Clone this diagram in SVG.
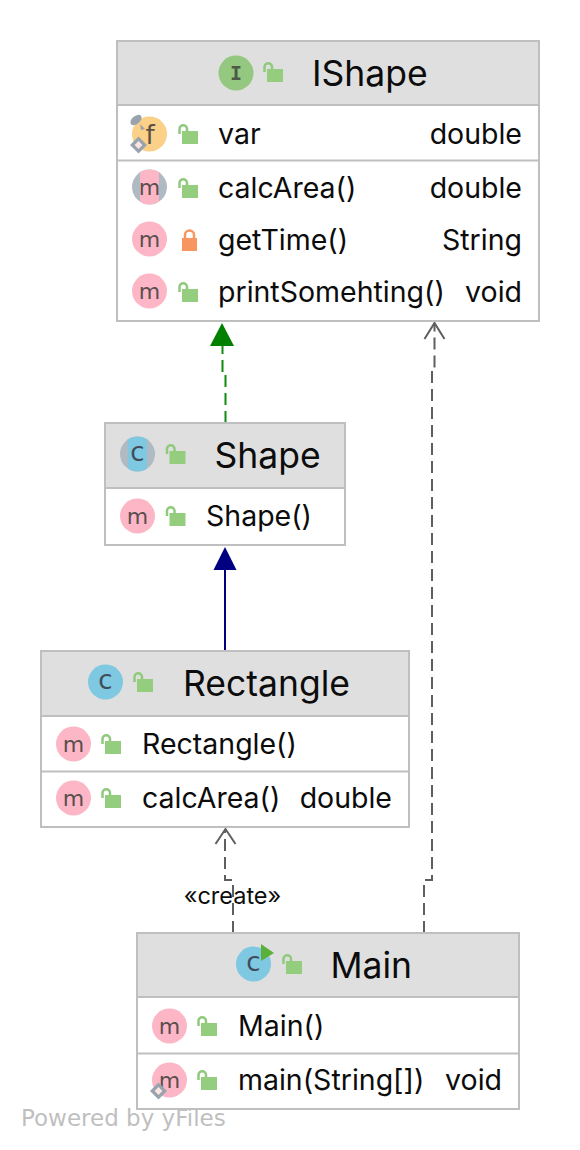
<svg xmlns="http://www.w3.org/2000/svg" width="580" height="1150" viewBox="0 0 580 1150">
<style>
text{font-family:"Inter","Liberation Sans",sans-serif;fill:#0c0c0c}
.box{fill:#fff;stroke:#bfbfbf;stroke-width:2}
.hd{fill:#dfdfdf;stroke:#bfbfbf;stroke-width:2}
.sep{stroke:#bfbfbf;stroke-width:2;fill:none}
.t{font-size:35.5px}
.l{font-size:28.5px}
.g{font-family:"DejaVu Sans",sans-serif;font-size:22px;fill:#57504f;text-anchor:middle}
.gc{font-family:"DejaVu Sans",sans-serif;font-size:26px;fill:#3f4d5a;text-anchor:middle}
.con{fill:none;stroke-width:2}
.dash{stroke-dasharray:12 6}
</style>
<defs>
<g id="open"><path d="M-5.500 2V-3a3.750 3.750 0 0 1 7.500 0V-1" fill="none" stroke="#8fca7c" stroke-width="2.500"/><rect x="-3" y="-1" width="16" height="13" fill="#94cd7d"/></g>
<g id="lock"><path d="M-4.500 2v-5a4.500 4.500 0 0 1 9 0v5" fill="none" stroke="#f79660" stroke-width="2.500"/><rect x="-7.500" y="0" width="15" height="13" fill="#f79660"/></g>
<circle id="mc" r="17.500" fill="#fdb6c6"/>
<g id="ringm"><circle r="17.500" fill="#afbac3"/><path d="M-9.500-14.700A17.500 17.500 0 0 1 9.500-14.700V14.700A17.500 17.500 0 0 1-9.500 14.700Z" fill="#fdb6c6"/></g>
<g id="ringc"><circle r="17.500" fill="#afbac3"/><path d="M-9.500-14.700A17.500 17.500 0 0 1 9.500-14.700V14.700A17.500 17.500 0 0 1-9.500 14.700Z" fill="#7fc8e2"/></g>
<g id="dia"><rect x="-6" y="-6" width="12" height="12" fill="#97a3ad" transform="rotate(45)"/><rect x="-2.750" y="-2.750" width="5.500" height="5.500" fill="#fbe4e2" transform="rotate(45)"/></g>
</defs>

<g id="connectors">
<path class="con dash" stroke="#0f8c0f" d="M225.500 423V372H222.500V346"/>
<path d="M222 323L234 346H210Z" fill="#008000"/>
<path class="con" stroke="#000080" d="M225 651V569"/>
<path d="M225 547L236.500 570H213.500Z" fill="#000080"/>
<path class="con dash" stroke="#5f5f5f" d="M424 933V880H432V372H434.500V325"/>
<path class="con" stroke="#5f5f5f" d="M424.500 339L434.500 323L444.500 339"/>
<path class="con dash" stroke="#5f5f5f" d="M233 933V880H225V830"/>
<path class="con" stroke="#5f5f5f" d="M215.500 844L225.500 829L235.500 844"/>
<text id="create-label" x="232.500" y="904" text-anchor="middle" style="font-size:23.500px">«create»</text>
</g>

<g id="IShape">
<rect class="box" x="117" y="41" width="422" height="280"/>
<rect class="hd" x="117" y="41" width="422" height="64"/>
<path class="sep" d="M117 160.500H539"/>
<circle cx="236" cy="73" r="17.500" fill="#94c77f"/>
<text x="236" y="80" class="g" style="font-family:'DejaVu Sans Mono',monospace;font-weight:bold;font-size:20px;fill:#4d5a47">I</text>
<use href="#open" x="270" y="70"/>
<text class="t" x="312" y="86">IShape</text>
<circle cx="149.500" cy="134" r="17.500" fill="#fbd088"/>
<text x="150" y="144" class="g" style="font-size:26px;fill:#5c5142">f</text>
<ellipse cx="136" cy="120" rx="6.500" ry="4" fill="#99a3ad" transform="rotate(-40 136 120)"/>
<path d="M140 124l5 5l-4 1Z" fill="#99a3ad"/>
<use href="#dia" x="138.500" y="145"/>
<use href="#open" x="185" y="132"/>
<text class="l" x="218" y="144">var</text>
<text class="l" x="522" y="144" text-anchor="end">double</text>
<use href="#ringm" x="149.500" y="187"/>
<text x="149.500" y="194.500" class="g">m</text>
<use href="#open" x="185" y="186"/>
<text class="l" x="218" y="198">calcArea()</text>
<text class="l" x="522" y="198" text-anchor="end">double</text>
<use href="#mc" x="149.500" y="239"/>
<text x="149.500" y="246.500" class="g">m</text>
<use href="#lock" x="189.500" y="238"/>
<text class="l" x="218" y="250">getTime()</text>
<text class="l" x="522" y="250" text-anchor="end">String</text>
<use href="#mc" x="149.500" y="291"/>
<text x="149.500" y="298.500" class="g">m</text>
<use href="#open" x="185" y="290"/>
<text class="l" x="218" y="302">printSomehting()</text>
<text class="l" x="522" y="302" text-anchor="end">void</text>
</g>

<g id="Shape">
<rect class="box" x="105" y="423" width="240" height="122"/>
<rect class="hd" x="105" y="423" width="240" height="65"/>
<use href="#ringc" x="137.500" y="454"/>
<text x="137.500" y="461" class="gc">c</text>
<use href="#open" x="172.500" y="452"/>
<text class="t" x="214.500" y="468">Shape</text>
<use href="#mc" x="137.500" y="516"/>
<text x="137.500" y="523.500" class="g">m</text>
<use href="#open" x="172.500" y="514"/>
<text class="l" x="206" y="526">Shape()</text>
</g>

<g id="Rectangle">
<rect class="box" x="41" y="651" width="368" height="176"/>
<rect class="hd" x="41" y="651" width="368" height="65"/>
<path class="sep" d="M41 771.500H409"/>
<circle cx="105.500" cy="682" r="17.500" fill="#7fc8e2"/>
<text x="105.500" y="689" class="gc">c</text>
<use href="#open" x="140" y="680"/>
<text class="t" x="183" y="696">Rectangle</text>
<use href="#mc" x="73.500" y="744"/>
<text x="73.500" y="751.500" class="g">m</text>
<use href="#open" x="108" y="742"/>
<text class="l" x="142" y="754">Rectangle()</text>
<use href="#mc" x="73.500" y="798"/>
<text x="73.500" y="805.500" class="g">m</text>
<use href="#open" x="108" y="796"/>
<text class="l" x="142" y="808">calcArea()</text>
<text class="l" x="392" y="808" text-anchor="end">double</text>
</g>

<g id="Main">
<rect class="box" x="137" y="933" width="382" height="176"/>
<rect class="hd" x="137" y="933" width="382" height="64"/>
<path class="sep" d="M137 1053.500H519"/>
<circle cx="253.500" cy="964" r="17.500" fill="#7fc8e2"/>
<text x="253.500" y="971" class="gc">c</text>
<path d="M261 944L274 953L261 961Z" fill="#5bb03b"/>
<use href="#open" x="289" y="962"/>
<text class="t" x="330.500" y="978">Main</text>
<use href="#mc" x="169.500" y="1026"/>
<text x="169.500" y="1033.500" class="g">m</text>
<use href="#open" x="204" y="1024"/>
<text class="l" x="238" y="1036">Main()</text>
<use href="#mc" x="169.500" y="1080"/>
<text x="169.500" y="1087.500" class="g">m</text>
<use href="#dia" x="158.500" y="1091"/>
<use href="#open" x="204" y="1078"/>
<text class="l" x="238" y="1090">main(String[])</text>
<text class="l" x="502" y="1090" text-anchor="end">void</text>
</g>

<text id="watermark" x="21" y="1126" style="font-family:'DejaVu Sans',sans-serif;font-size:23px;fill:#bfbfbf">Powered by yFiles</text>
</svg>
